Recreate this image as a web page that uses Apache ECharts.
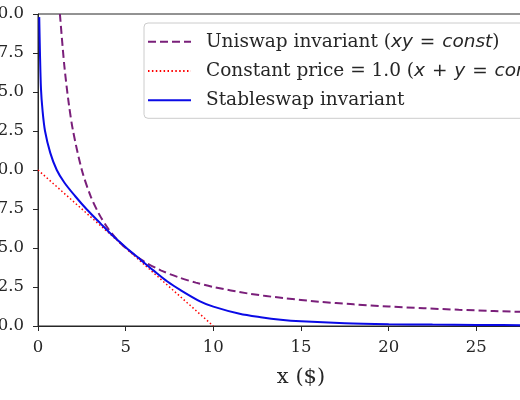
<!DOCTYPE html>
<html>
<head>
<meta charset="utf-8">
<script src="https://cdn.jsdelivr.net/npm/echarts@6/dist/echarts.min.js"></script>
<style>
  html, body { margin: 0; padding: 0; background: #fff; overflow: hidden; }
  #chart { width: 520px; height: 400px; }
</style>
</head>
<body>
<div id="chart"></div>
<script>
// ---- data ----
const uniswapX = [1.25, 1.5, 1.75, 2, 2.5, 3, 3.5, 4, 4.5, 5, 6, 7, 8, 9, 10, 12, 14, 16, 18, 20, 22, 24, 26, 28, 30];
const uniswapY = [20, 16.7, 14.3, 12.5, 10, 8.33, 7.14, 6.25, 5.56, 5, 4.17, 3.57, 3.13, 2.78, 2.5, 2.08, 1.79, 1.56, 1.39, 1.25, 1.14, 1.04, 0.96, 0.89, 0.83];

const constX = [0, 10];
const constY = [10, 0];

const stableX = [0.07, 0.11, 0.17, 0.26, 0.4, 0.7, 1.07, 1.5, 2.1, 2.8, 3.56, 4.3, 5.0, 5.85, 6.6, 7.38, 8.13, 9.24, 10, 11.5, 12.7, 13.84, 15, 17.5, 20, 22.5, 25, 28, 30];
const stableY = [19.8, 17.6, 15.2, 13.8, 12.5, 11.1, 10.0, 9.2, 8.35, 7.45, 6.58, 5.75, 5.05, 4.25, 3.55, 2.85, 2.3, 1.58, 1.24, 0.78, 0.56, 0.4, 0.3, 0.18, 0.12, 0.09, 0.07, 0.05, 0.045];

const seriesNames = [
  'Uniswap invariant (xy = const)',
  'Constant price = 1.0 (x + y = const)',
  'Stableswap invariant'
];
const legendRich = [
  '{s|Uniswap invariant (}{m|xy}{e| = }{m|const}{s|)}',
  '{s|Constant price = 1.0 (}{m|x}{e| + }{m|y}{e| = }{m|const}{s|)}',
  '{s|Stableswap invariant}'
];

const zip = (xs, ys) => xs.map((x, i) => [x, ys[i]]);

const SERIF = "'DejaVu Serif', 'Liberation Serif', serif";
const SANS = "'DejaVu Sans', sans-serif";
const INK = '#262626';

const chart = echarts.init(document.getElementById('chart'), null, { renderer: 'canvas' });
chart.setOption({
  animation: false,
  backgroundColor: '#ffffff',
  grid: {
    left: 38, top: 14, right: -44, bottom: 74,
    containLabel: false, outerBoundsMode: 'none',
    show: true, borderColor: INK, borderWidth: 1, backgroundColor: 'transparent'
  },
  xAxis: {
    type: 'value', min: 0, max: 30, interval: 5,
    name: 'x ($)', nameLocation: 'middle', nameGap: 41,
    nameTextStyle: { fontFamily: SERIF, fontSize: 21, color: INK },
    axisLine: { show: true, onZero: false, lineStyle: { color: INK, width: 1 } },
    axisTick: { show: true, inside: false, length: 5, lineStyle: { color: INK, width: 1 } },
    axisLabel: { fontFamily: SERIF, fontSize: 16.5, color: INK, margin: 13, formatter: v => String(v) },
    splitLine: { show: false }
  },
  yAxis: {
    type: 'value', min: 0, max: 20, interval: 2.5,
    axisLine: { show: true, onZero: false, lineStyle: { color: INK, width: 1 } },
    axisTick: { show: true, inside: false, length: 5, lineStyle: { color: INK, width: 1 } },
    axisLabel: { fontFamily: SERIF, fontSize: 16.5, color: INK, margin: 14, formatter: v => v.toFixed(1) },
    splitLine: { show: false }
  },
  legend: {
    orient: 'vertical',
    left: 144, top: 23,
    data: seriesNames,
    itemWidth: 43, itemHeight: 14, itemGap: 9.3,
    padding: [8.7, 12, 8, 3],
    backgroundColor: 'rgba(255,255,255,0.85)',
    borderColor: '#cccccc', borderWidth: 1, borderRadius: 4,
    itemStyle: { opacity: 0 },
    formatter: name => legendRich[seriesNames.indexOf(name)],
    textStyle: {
      padding: [0, 0, 0, 10],
      lineHeight: 20,
      rich: {
        s: { fontFamily: SERIF, fontSize: 18.5, color: INK, lineHeight: 20 },
        m: { fontFamily: SANS, fontStyle: 'italic', fontSize: 18.5, color: INK, lineHeight: 20 },
        e: { fontFamily: SANS, fontSize: 18.5, color: INK, lineHeight: 20, padding: [0, 1, 0, 1] }
      }
    }
  },
  series: [
    {
      name: seriesNames[0], type: 'line', data: zip(uniswapX, uniswapY),
      smooth: 0.3, symbol: 'none', clip: true,
      lineStyle: { color: '#7a1f7a', width: 2, type: [8, 4] },
      itemStyle: { color: '#7a1f7a' }
    },
    {
      name: seriesNames[1], type: 'line', data: zip(constX, constY),
      symbol: 'none', clip: true,
      lineStyle: { color: '#ff0000', width: 1.5, type: [1.5, 2.4] },
      itemStyle: { color: '#ff0000' }
    },
    {
      name: seriesNames[2], type: 'line', data: zip(stableX, stableY),
      smooth: 0.3, symbol: 'none', clip: true,
      lineStyle: { color: '#0a0ae6', width: 2 },
      itemStyle: { color: '#0a0ae6' }
    }
  ]
});
</script>
</body>
</html>
